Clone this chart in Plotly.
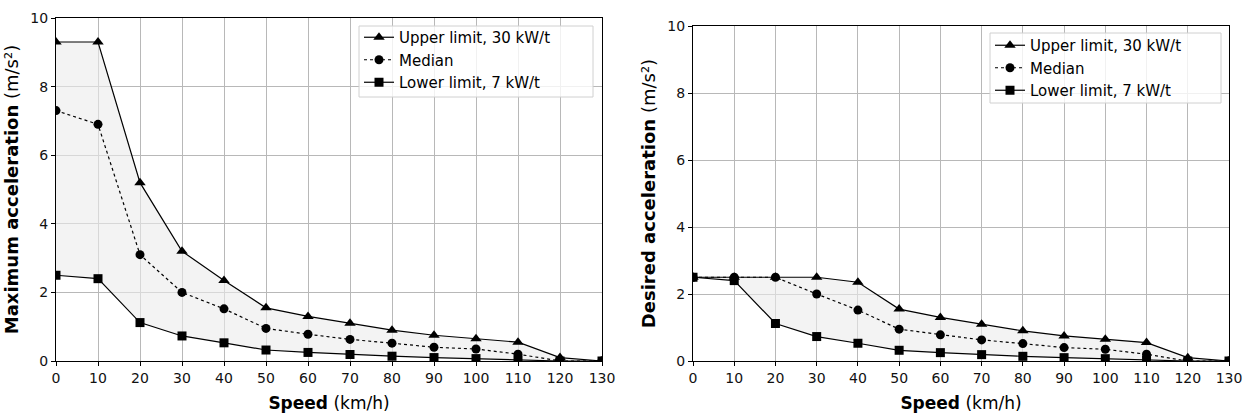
import plotly.graph_objects as go

speed = [0, 10, 20, 30, 40, 50, 60, 70, 80, 90, 100, 110, 120, 130]

max_upper = [9.3, 9.3, 5.2, 3.2, 2.35, 1.55, 1.3, 1.1, 0.9, 0.75, 0.65, 0.55, 0.1, 0.0]
max_median = [7.3, 6.9, 3.1, 2.0, 1.52, 0.95, 0.78, 0.63, 0.52, 0.4, 0.35, 0.2, 0.0, 0.0]
max_lower = [2.5, 2.4, 1.12, 0.73, 0.53, 0.32, 0.25, 0.19, 0.14, 0.1, 0.07, 0.03, 0.0, 0.0]

des_upper = [2.5, 2.5, 2.5, 2.5, 2.35, 1.55, 1.3, 1.1, 0.9, 0.75, 0.65, 0.55, 0.1, 0.0]
des_median = [2.5, 2.5, 2.5, 2.0, 1.52, 0.95, 0.78, 0.63, 0.52, 0.4, 0.35, 0.2, 0.0, 0.0]
des_lower = [2.5, 2.4, 1.12, 0.73, 0.53, 0.32, 0.25, 0.19, 0.14, 0.1, 0.07, 0.03, 0.0, 0.0]

names = ["Upper limit, 30 kW/t", "Median", "Lower limit, 7 kW/t"]
y_titles = ["<b>Maximum acceleration</b> (m/s²)", "<b>Desired acceleration</b> (m/s²)"]
x_title = "<b>Speed</b> (km/h)"
x_ticks = list(range(0, 140, 10))
y_ticks = [0, 2, 4, 6, 8, 10]

FONT = "DejaVu Sans"
fig = go.Figure()

panels = [
    (max_upper, max_median, max_lower, "x", "y", "legend"),
    (des_upper, des_median, des_lower, "x2", "y2", "legend2"),
]

for up, med, low, xa, ya, lg in panels:
    # fill between lower and upper
    fig.add_trace(go.Scatter(x=speed, y=low, mode="lines", line=dict(width=0),
                             showlegend=False, hoverinfo="skip", xaxis=xa, yaxis=ya))
    fig.add_trace(go.Scatter(x=speed, y=up, mode="lines", line=dict(width=0),
                             fill="tonexty", fillcolor="rgba(235,235,235,0.6)",
                             showlegend=False, hoverinfo="skip", xaxis=xa, yaxis=ya))
    fig.add_trace(go.Scatter(x=speed, y=up, name=names[0], mode="lines+markers",
                             line=dict(color="black", width=1.2),
                             marker=dict(symbol="triangle-up", size=10, color="black"),
                             xaxis=xa, yaxis=ya, legend=lg))
    fig.add_trace(go.Scatter(x=speed, y=med, name=names[1], mode="lines+markers",
                             line=dict(color="black", width=1.2, dash="dot"),
                             marker=dict(symbol="circle", size=9, color="black"),
                             xaxis=xa, yaxis=ya, legend=lg))
    fig.add_trace(go.Scatter(x=speed, y=low, name=names[2], mode="lines+markers",
                             line=dict(color="black", width=1.2),
                             marker=dict(symbol="square", size=9, color="black"),
                             xaxis=xa, yaxis=ya, legend=lg))

axis_common = dict(showline=True, linecolor="black", linewidth=1.2, mirror=True,
                   showgrid=True, gridcolor="#b8b8b8", gridwidth=1, automargin=False,
                   ticks="outside", ticklen=4, tickcolor="black", zeroline=False,
                   tickfont=dict(family=FONT, size=14, color="#111"))

W, H = 1249, 418
def px_x(p): return p / W
def px_y(p): return 1 - p / H

legend_common = dict(xanchor="left", yanchor="top", traceorder="normal",
                     bgcolor="rgba(0,0,0,0)", borderwidth=0,
                     font=dict(family=FONT, size=15), tracegroupgap=0, itemwidth=30)

# legend frames (matplotlib-style box, semi-transparent)
for x0, y0, x1, y1 in [(359, 26, 593, 97), (990, 33, 1221, 103)]:
    fig.add_shape(type="rect", xref="paper", yref="paper",
                  x0=px_x(x0), x1=px_x(x1), y0=px_y(y1), y1=px_y(y0),
                  fillcolor="rgba(255,255,255,0.8)", line=dict(color="#d0d0d0", width=1),
                  layer="above")

fig.update_layout(
    width=W, height=H, margin=dict(l=0, r=0, t=0, b=0, autoexpand=False),
    plot_bgcolor="white", paper_bgcolor="white",
    font=dict(family=FONT, size=14, color="black"),
    xaxis=dict(domain=[px_x(56), px_x(602)], range=[0, 130], tickvals=x_ticks, anchor="y",
               title=dict(text=x_title, font=dict(family=FONT, size=17), standoff=12), **axis_common),
    yaxis=dict(domain=[px_y(361), px_y(18)], range=[0, 10], tickvals=y_ticks, anchor="x",
               title=dict(text=y_titles[0], font=dict(family=FONT, size=18), standoff=6), **axis_common),
    xaxis2=dict(domain=[px_x(693), px_x(1229)], range=[0, 130], tickvals=x_ticks, anchor="y2",
                title=dict(text=x_title, font=dict(family=FONT, size=17), standoff=12), **axis_common),
    yaxis2=dict(domain=[px_y(361), px_y(26)], range=[0, 10], tickvals=y_ticks, anchor="x2",
                title=dict(text=y_titles[1], font=dict(family=FONT, size=18), standoff=6), **axis_common),
    legend=dict(x=px_x(359), y=px_y(21), **legend_common),
    legend2=dict(x=px_x(990), y=px_y(29), **legend_common),
)

fig.write_html("out.html", config={"displayModeBar": False},
               post_script="document.body.style.margin='0';document.body.style.overflow='hidden';")
